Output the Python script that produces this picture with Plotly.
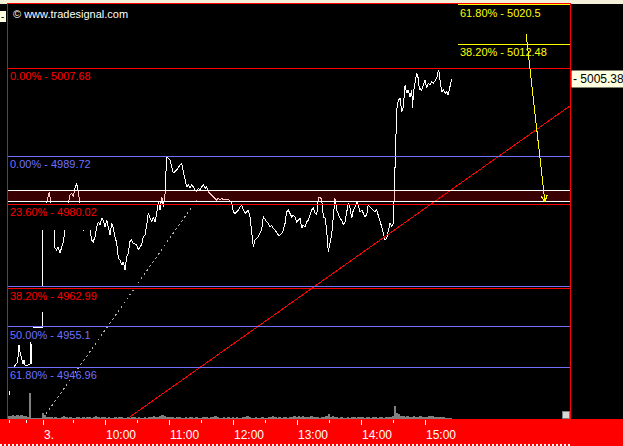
import plotly.graph_objects as go

# ---------------- data ----------------
# time in minutes of day (600 = 10:00); None price = gap in the line
price_time = [
    510.0, 510.9, 512.0,
    513.8, 515.6, 517.5, 518.4, 519.4, 520.3, 521.3, 522.2, 523.1, 524.1, 525.0, 527.8, 529.7, 530.6, 531.1, 531.8,
    532.5, 541.6, 541.6, 541.6,
    541.6, 541.6, 543.0,
    545.3, 546.8, 547.8, 548.4, 549.1, 550.5,
    552.5, 553.1, 554.7, 556.2, 557.8, 559.4, 560.9, 562.5, 564.0,
    565.6, 567.2, 568.8, 570.3, 571.9, 573.5, 575.0, 576.6, 578.0,
    579.4, 580.3, 583.0,
    585.9, 587.5, 589.0, 590.6, 592.2, 593.7, 595.3, 596.9, 598.4, 600.0,
    601.6, 603.1, 604.7, 606.3, 607.8, 609.4, 611.0, 612.5, 614.1, 615.7,
    617.2, 618.8, 620.3, 621.8, 623.4, 625.0, 626.5, 629.7, 631.2, 632.8,
    634.4, 635.9, 637.5, 639.1, 640.6, 642.2, 643.8, 645.3, 646.9, 648.5,
    650.0, 651.6, 653.2, 654.7, 656.3, 657.8, 660.9, 664.0, 667.2, 670.3,
    671.9, 673.4, 675.0, 676.6, 678.1, 679.7, 681.3, 682.8, 684.4, 686.0,
    687.5, 689.1, 690.7, 692.2, 693.8, 695.3, 696.8, 698.4, 700.0, 701.5,
    703.1, 704.7, 706.2, 707.8, 709.4, 710.9, 712.5, 714.1, 715.6, 717.2,
    718.8, 720.3, 721.9, 723.5, 725.0, 726.6, 728.2, 729.7, 731.3, 732.8,
    734.3, 735.9, 737.5, 739.0, 740.6, 742.2, 743.7, 745.3, 746.9, 748.4,
    750.0, 751.6, 753.1, 754.7, 756.3, 757.8, 759.4, 761.0, 762.5, 764.1,
    765.7, 767.2, 768.8, 770.3, 771.8, 773.4, 775.0, 776.5, 778.1, 779.7,
    781.2, 782.8, 784.4, 785.9, 787.5, 789.1, 790.6, 792.2, 793.8, 795.3,
    796.9, 798.5, 800.0, 801.6, 803.2, 804.7, 806.3, 807.8, 809.3, 810.9,
    812.5, 814.0, 815.6, 817.2, 818.7, 820.3, 821.9, 823.4, 825.0, 826.6,
    828.1, 829.7, 831.3, 832.8, 834.4, 836.0, 837.5, 839.1, 840.7, 842.2,
    843.8, 845.3, 846.8, 848.4, 850.0, 851.5, 853.1, 854.7, 856.2, 857.8,
    859.4, 860.9, 862.5, 864.1, 865.6, 867.2, 868.8, 870.3, 870.9, 871.9,
    872.8, 873.5, 875.0, 876.6, 878.2, 879.7, 881.3, 882.8, 884.3, 885.9,
    887.5, 888.5, 889.0, 890.6, 892.2, 893.7, 894.7, 895.3, 896.9, 898.4,
    900.0, 901.6, 903.1, 904.7, 906.3, 907.8, 909.4, 911.0, 912.5, 913.4,
    914.1, 915.7, 917.2, 918.8, 920.3, 921.8, 923.4, 925.0,
]
price = [
    4941.27, 4942.08, None,
    4946.75, 4947.16, 4947.77, 4948.78, 4951.42, 4950.00, 4949.19, 4947.97, 4947.57, 4948.38, 4947.36, 4947.36, 4947.57, 4952.03, 4947.57, None,
    4955.08, 4955.08, 4958.13, None,
    4963.20, 4974.78, None,
    4980.26, 4981.89, 4982.56, 4981.54, 4980.26, None,
    4974.78, 4971.12, 4970.72, 4971.33, 4970.11, 4971.12, 4972.34, 4974.78, None,
    4980.26, 4981.89, 4982.23, 4981.54, 4983.25, 4984.26, 4982.23, 4980.26, None,
    4974.78, 4974.78, None,
    4974.78, 4972.75, 4972.40, 4973.42, 4975.45, 4976.46, 4975.79, 4977.16, 4976.81, 4975.45,
    4976.81, 4975.12, 4973.76, 4976.14, 4975.12, 4973.42, 4972.08, 4969.03, 4968.69, 4967.67,
    4968.34, 4966.66, 4969.36, 4970.05, 4972.40, 4972.75, 4972.08, 4971.73, 4970.72, 4971.39,
    4971.73, 4973.42, 4973.76, 4975.79, 4978.17, 4977.16, 4976.46, 4977.48, 4976.46, 4978.17,
    4980.53, 4978.84, 4981.54, 4979.51, 4982.23, 4989.60, 4989.00, 4986.36, 4986.96, 4987.98,
    4988.33, 4986.62, 4984.93, 4983.57, 4983.92, 4983.25, 4983.92, 4983.57, 4982.90, 4982.56,
    4983.25, 4982.90, 4983.57, 4983.92, 4983.25, 4983.57, 4982.56, 4982.23, 4981.89, 4981.54,
    4981.22, 4980.87, 4981.22, 4980.87, 4981.22, 4980.87, 4981.01, 4980.87, 4981.01, 4980.73,
    4980.20, 4978.50, 4978.17, 4978.50, 4978.84, 4979.51, 4979.86, 4978.84, 4978.17, 4978.50,
    4978.84, 4977.48, 4974.78, 4971.39, 4972.75, 4973.09, 4973.42, 4974.11, 4974.78, 4977.48,
    4976.81, 4976.46, 4976.14, 4975.45, 4975.79, 4975.12, 4974.78, 4974.11, 4973.76, 4973.76,
    4974.11, 4974.78, 4976.14, 4978.50, 4978.84, 4978.17, 4977.48, 4977.83, 4977.48, 4976.46,
    4976.81, 4977.16, 4975.12, 4975.79, 4975.45, 4976.46, 4976.81, 4977.83, 4978.84, 4979.19,
    4978.17, 4977.83, 4981.22, 4981.54, 4980.87, 4977.48, 4977.16, 4974.78, 4970.37, 4972.08,
    4973.76, 4977.48, 4981.22, 4978.84, 4978.17, 4977.16, 4976.81, 4975.79, 4976.46, 4978.50,
    4980.20, 4979.19, 4977.16, 4978.84, 4979.51, 4980.53, 4979.86, 4978.50, 4978.84, 4978.17,
    4977.48, 4977.83, 4979.86, 4979.51, 4979.19, 4978.84, 4978.50, 4978.84, 4977.83, 4976.81,
    4975.45, 4974.11, 4972.75, 4973.09, 4974.78, 4976.14, 4975.45, 4976.14, 4980.20, 4989.67,
    4995.76, 4999.15, 5001.18, 5001.53, 4998.80, 4999.82, 5004.23, 5002.54, 5003.21, 5001.85,
    5003.21, 4999.50, 5002.54, 5004.23, 5006.60, 5005.59, 5003.21, 5003.56, 5003.21, 5004.23,
    5005.24, 5003.56, 5004.57, 5004.23, 5004.90, 5004.57, 5005.24, 5005.59, 5007.27, 5006.60,
    5005.24, 5002.87, 5003.21, 5002.54, 5002.87, 5002.20, 5003.88, 5005.38,
]

# volume, 2-minute bars starting 510
volume_time = list(range(510, 926, 2))
volume = [
    300, 300, 400, 300, 400, 300, 400, 300, 300, 200,
    2600,
    100, 100, 100, 100, 100,
    600, 400,
    200, 200, 200, 100, 200, 100, 100, 200, 300, 200, 100, 200, 100, 100, 200, 200,
    100, 200, 100, 200, 200, 100, 200, 300, 200, 100, 200, 200,
    100, 200, 100, 100, 200, 100, 200, 200, 100, 100, 200, 100, 200, 200, 100,
    200, 100, 100, 200, 100, 200, 200, 300, 200, 200, 300, 400, 300, 200, 200,
    200, 200, 100, 200, 200, 100, 100, 200, 100, 200, 200, 100, 200, 100, 100,
    200, 200, 200, 100, 200, 200, 300, 200, 100, 100, 200, 100, 200, 100, 200,
    100, 200, 100, 100, 200, 200, 300, 200, 100, 100, 200, 100, 100, 200, 100,
    100, 200, 200, 300, 200, 100, 200, 100, 200, 200, 100, 200, 200, 300, 200,
    300, 200, 300, 200, 200, 200, 300, 200, 200, 200, 100, 200, 200, 300, 500,
    200, 300, 200, 200, 100, 200, 100, 100, 200, 100, 200, 200, 100, 200, 200,
    200, 100, 200, 200, 100, 200, 200, 100, 200, 200, 100, 200, 200, 200, 300,
    1300, 600, 500,
    300, 300, 200, 300, 200, 200, 300, 200, 200, 300, 200, 200,
    200, 300, 300, 300, 200, 200, 200, 200, 200, 100, 100, 100,
]

red_levels = [5007.68, 4980.02, 4962.99]
red_labels = ["0.00% - 5007.68", "23.60% - 4980.02", "38.20% - 4962.99"]
blue_levels = [4989.72, 4955.1, 4946.96]
blue_labels = ["0.00% - 4989.72", "50.00% - 4955.1", "61.80% - 4946.96"]
blue_extra_levels = [4963.27]
yellow_levels = [5020.5, 5012.48]
yellow_labels = ["61.80% - 5020.5", "38.20% - 5012.48"]
yellow_start = 930.9
band_levels = [4980.6, 4982.9]

trend_red_t = [620.6, 1036.0]
trend_red_p = [4936.4, 5000.0]
trend_gray_t = [544.7, 687.2]
trend_gray_p = [4937.41, 4981.28]
arrow_from = (994.7, 5014.79)
arrow_to = (1012.5, 4980.26)
last_price = 5005.38

major_ticks = [542, 600, 660, 720, 780, 840, 900]
major_labels = ["3.", "10:00", "11:00", "12:00", "13:00", "14:00", "15:00"]
minor_ticks = [510, 526, 570, 630, 690, 750, 810, 870]

# ---------------- figure ----------------
W, H = 623, 446
L, R, T, B = 8, 53, 4, 27
PW, PH = W - L - R, H - T - B
def px(xp):
    return (xp - L) / PW
def py(yp):
    return (H - B - yp) / PH

FONT = "Liberation Sans, Arial, sans-serif"
RED = "#FF0000"
BLUE = "#7070FF"
YEL = "#FFFF00"

fig = go.Figure()
fig.add_trace(go.Bar(x=volume_time, y=volume, yaxis="y2", width=1.8,
                     marker=dict(color="#808080", line=dict(width=0)), showlegend=False))
fig.add_trace(go.Scatter(x=trend_gray_t, y=trend_gray_p, mode="lines",
                         line=dict(color="#B0B0B0", width=1, dash="2px,3px"), showlegend=False))
fig.add_trace(go.Scatter(x=price_time, y=price, mode="lines", connectgaps=False,
                         line=dict(color="white", width=1), showlegend=False))
fig.add_trace(go.Scatter(x=trend_red_t, y=trend_red_p, mode="lines",
                         line=dict(color=RED, width=1), showlegend=False, cliponaxis=True))

shapes = []
# background decorations
shapes.append(dict(type="rect", xref="paper", yref="paper", x0=px(0), x1=px(W), y0=py(0), y1=py(T),
                   fillcolor="#F3EFD9", line_width=0, layer="below"))
shapes.append(dict(type="rect", xref="paper", yref="paper", x0=px(0), x1=px(W), y0=py(H - B), y1=py(H - 2),
                   fillcolor=RED, line_width=0, layer="below"))
shapes.append(dict(type="rect", xref="paper", yref="paper", x0=px(0), x1=px(W), y0=py(H - 2), y1=py(H),
                   fillcolor=RED, line_width=0, layer="below"))
shapes.append(dict(type="line", xref="paper", yref="paper", x0=px(0), x1=px(570), y0=py(H - 1), y1=py(H - 1),
                   line=dict(color="white", width=2, dash="2px,2px"), layer="above"))
shapes.append(dict(type="rect", xref="paper", yref="paper", x0=px(0), x1=px(6), y0=py(11), y1=py(22),
                   fillcolor="#FFFFE1", line_width=0, layer="below"))
shapes.append(dict(type="rect", xref="paper", yref="paper", x0=px(562), x1=px(569), y0=py(418), y1=py(411),
                   fillcolor="#D8D8D8", line=dict(color="#808080", width=1), layer="above"))
# band
shapes.append(dict(type="rect", xref="paper", yref="y", x0=0, x1=1, y0=band_levels[0], y1=band_levels[1],
                   fillcolor="rgba(255,0,0,0.22)", line_width=0, layer="above"))
for lv in band_levels:
    shapes.append(dict(type="line", xref="paper", yref="y", x0=0, x1=1, y0=lv, y1=lv,
                       line=dict(color="white", width=1), layer="above"))
for lv in blue_levels + blue_extra_levels:
    shapes.append(dict(type="line", xref="paper", yref="y", x0=0, x1=1, y0=lv, y1=lv,
                       line=dict(color=BLUE, width=1), layer="above"))
for lv in red_levels:
    shapes.append(dict(type="line", xref="paper", yref="y", x0=0, x1=1, y0=lv, y1=lv,
                       line=dict(color=RED, width=1), layer="above"))
for lv in yellow_levels:
    shapes.append(dict(type="line", xref="x", yref="y", x0=yellow_start, x1=1035.9, y0=lv, y1=lv,
                       line=dict(color=YEL, width=1), layer="above"))

ann = []
for lv, tx in zip(red_levels, red_labels):
    ann.append(dict(xref="paper", yref="y", x=0, y=lv, xanchor="left", yanchor="top", yshift=-1, xshift=1,
                    text=tx, showarrow=False, font=dict(family=FONT, size=11, color=RED), borderpad=0))
for lv, tx in zip(blue_levels, blue_labels):
    ann.append(dict(xref="paper", yref="y", x=0, y=lv, xanchor="left", yanchor="top", yshift=-1, xshift=1,
                    text=tx, showarrow=False, font=dict(family=FONT, size=11, color=BLUE), borderpad=0))
for lv, tx in zip(yellow_levels, yellow_labels):
    ann.append(dict(xref="x", yref="y", x=yellow_start, y=lv, xanchor="left", yanchor="top", yshift=-1, xshift=1,
                    text=tx, showarrow=False, font=dict(family=FONT, size=11, color=YEL), borderpad=0))
for tv, tx in zip(major_ticks, major_labels):
    ann.append(dict(xref="x", yref="paper", x=tv, y=0, xanchor="left", yanchor="top", yshift=-8,
                    text=tx, showarrow=False, font=dict(family=FONT, size=12, color="white"), borderpad=0))
ann.append(dict(xref="paper", yref="paper", x=px(12), y=py(7), xanchor="left", yanchor="top",
                text="© www.tradesignal.com", showarrow=False,
                font=dict(family=FONT, size=11, color="white"), borderpad=0))
ann.append(dict(xref="paper", yref="y", x=1, y=last_price, xanchor="left", yanchor="middle", xshift=1,
                text="- 5005.38", showarrow=False, bgcolor="#FFFFE1", width=50, align="left",
                font=dict(family=FONT, size=12, color="black"), borderpad=1))
ann.append(dict(xref="paper", yref="paper", x=px(3), y=py(16.5), xanchor="center", yanchor="middle",
                text="-", showarrow=False, font=dict(family=FONT, size=10, color="black")))
ann.append(dict(xref="x", yref="y", x=arrow_to[0], y=arrow_to[1], ax=arrow_from[0], ay=arrow_from[1],
                axref="x", ayref="y", showarrow=True, arrowcolor=YEL, arrowwidth=1, arrowhead=5,
                arrowsize=1.2, text=""))

fig.update_layout(
    width=W, height=H, autosize=False,
    margin=dict(l=L, r=R, t=T, b=B, pad=0),
    paper_bgcolor="black", plot_bgcolor="black",
    shapes=shapes, annotations=ann, showlegend=False, bargap=0,
    xaxis=dict(range=[509.06, 1035.94], showgrid=False, zeroline=False,
               showline=True, mirror=True, linecolor=RED, linewidth=1,
               tickmode="array", tickvals=major_ticks, ticktext=[""] * len(major_ticks),
               ticks="outside", ticklen=5, tickcolor="white", tickwidth=1,
               minor=dict(tickmode="array", tickvals=minor_ticks, ticks="outside", ticklen=3,
                          tickcolor="white", tickwidth=1, showgrid=False),
               showticklabels=False),
    yaxis=dict(range=[4936.40, 5020.68], showgrid=False, zeroline=False, showticklabels=False,
               showline=True, mirror=True, linecolor=RED, linewidth=1, ticks=""),
    yaxis2=dict(range=[0, 41500], overlaying="y", visible=False),
)

post = (
    "document.body.style.margin='0';document.body.style.overflow='hidden';"
    "document.querySelectorAll('.main-svg path').forEach(function(p){p.style.shapeRendering='crispEdges';});"
)
fig.write_html("out.html", config={"displayModeBar": False}, post_script=post)
